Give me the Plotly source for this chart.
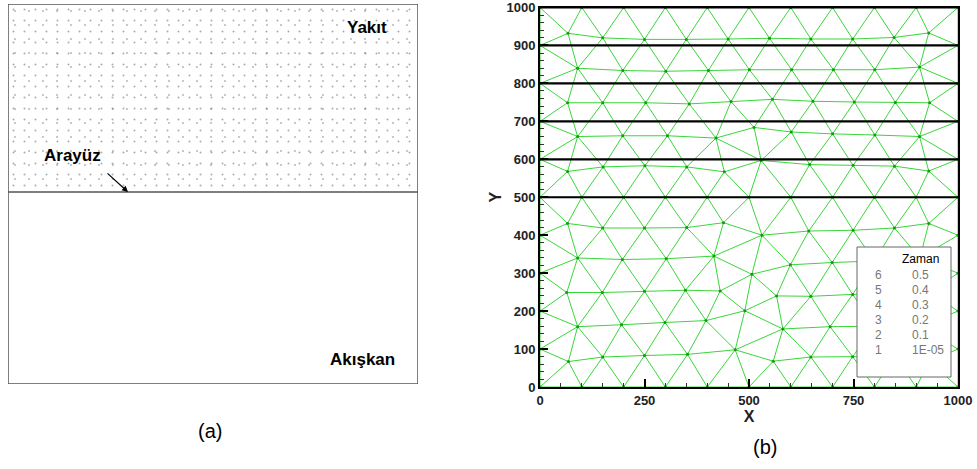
import plotly.graph_objects as go

W, H = 977, 469

# ------------------------------------------------------------------ data
zaman_levels = [6, 5, 4, 3, 2, 1]
zaman_values = ["0.5", "0.4", "0.3", "0.2", "0.1", "1E-05"]
interface_y = [1000, 900, 800, 700, 600, 500]          # interface height per level

x_ticks = [0, 250, 500, 750, 1000]
y_ticks = list(range(0, 1001, 100))

# mesh nodes
edge_x = list(range(0, 1001, 100))        # nodes on bottom/top boundaries
edge_y = list(range(100, 1000, 100))      # nodes on left/right boundaries
row500_x = list(range(100, 1000, 100))    # full node row at y = 500

row930 = [(67, 932), (150, 920), (250, 916), (350, 916), (450, 917), (549, 919),
          (648, 917), (748, 917), (847, 921), (930, 933)]
row840 = [(90, 840), (198, 834), (301, 832), (403, 834), (501, 836), (602, 836),
          (702, 836), (801, 836), (908, 843)]
row750 = [(66, 749), (150, 749), (253, 749), (357, 746), (457, 752), (556, 758),
          (653, 753), (752, 751), (850, 750), (932, 749)]
row660 = [(90, 660), (198, 662), (305, 662), (421, 656), (512, 684), (601, 672),
          (700, 667), (801, 664), (908, 660)]
row580 = [(66, 568), (151, 580), (251, 583), (351, 580), (441, 567), (529, 597),
          (645, 586), (749, 584), (848, 582), (930, 569)]
row430 = [(66, 431), (150, 419), (250, 419), (351, 420), (439, 433), (531, 400),
          (643, 411), (749, 413), (848, 419), (930, 431)]
row340 = [(90, 340), (197, 336), (302, 338), (416, 345), (507, 297), (599, 322),
          (699, 328), (800, 332), (909, 340)]
row250 = [(64, 249), (149, 249), (250, 252), (348, 255), (431, 253), (566, 240),
          (648, 239), (748, 244), (850, 248), (933, 250)]
row160 = [(90, 159), (195, 164), (299, 170), (397, 175), (490, 201), (581, 153),
          (694, 159), (800, 160), (909, 160)]
row80 = [(68, 67), (150, 79), (250, 83), (353, 86), (467, 98), (558, 68),
         (648, 79), (748, 80), (849, 80), (932, 68)]

panel_a_interface = 0.505   # fraction of panel (a) height

# ------------------------------------------------------------------ mesh
nodes = []
nodes += [(x, 0) for x in edge_x] + [(x, 1000) for x in edge_x]
nodes += [(0, y) for y in edge_y] + [(1000, y) for y in edge_y]
nodes += [(x, 500) for x in row500_x]
for r in (row930, row840, row750, row660, row580, row430, row340, row250, row160, row80):
    nodes += r
nodes = list(dict.fromkeys(nodes))


def circum(a, b, c):
    ax, ay = a; bx, by = b; cx, cy = c
    d = 2 * (ax * (by - cy) + bx * (cy - ay) + cx * (ay - by))
    if abs(d) < 1e-12:
        return (0.0, 0.0, float("inf"))
    ux = ((ax * ax + ay * ay) * (by - cy) + (bx * bx + by * by) * (cy - ay) + (cx * cx + cy * cy) * (ay - by)) / d
    uy = ((ax * ax + ay * ay) * (cx - bx) + (bx * bx + by * by) * (ax - cx) + (cx * cx + cy * cy) * (bx - ax)) / d
    return (ux, uy, (ax - ux) ** 2 + (ay - uy) ** 2)


def delaunay(pts):
    P = list(pts) + [(-20000.0, -20000.0), (21000.0, -20000.0), (500.0, 21000.0)]
    n = len(pts)
    tris = {(n, n + 1, n + 2): circum(P[n], P[n + 1], P[n + 2])}
    for i in range(n):
        px_, py_ = P[i]
        bad = [t for t, (ux, uy, r2) in tris.items() if (px_ - ux) ** 2 + (py_ - uy) ** 2 < r2 - 1e-7]
        cnt = {}
        for t in bad:
            for e in ((t[0], t[1]), (t[1], t[2]), (t[2], t[0])):
                k = tuple(sorted(e))
                cnt[k] = cnt.get(k, 0) + 1
        for t in bad:
            del tris[t]
        for (a, b), c in cnt.items():
            if c == 1:
                tris[(a, b, i)] = circum(P[a], P[b], P[i])
    edges = set()
    for t in tris:
        if max(t) >= n:
            continue
        (x1, y1), (x2, y2), (x3, y3) = P[t[0]], P[t[1]], P[t[2]]
        if abs((x2 - x1) * (y3 - y1) - (x3 - x1) * (y2 - y1)) < 1e-6:
            continue
        for e in ((t[0], t[1]), (t[1], t[2]), (t[2], t[0])):
            edges.add(tuple(sorted(e)))
    return edges


mesh_edges = delaunay(nodes)
ex, ey = [], []
for a, b in mesh_edges:
    ex += [nodes[a][0], nodes[b][0], None]
    ey += [nodes[a][1], nodes[b][1], None]

# ------------------------------------------------------------------ figure
FONT = "Liberation Sans, Arial, Helvetica, sans-serif"
fig = go.Figure()

# panel (b) mesh
fig.add_trace(go.Scatter(x=ex, y=ey, mode="lines", line=dict(color="#3ad63a", width=1),
                         hoverinfo="skip", showlegend=False, xaxis="x", yaxis="y"))
fig.add_trace(go.Scatter(x=[p[0] for p in nodes], y=[p[1] for p in nodes], mode="markers",
                         marker=dict(color="#139a13", size=3), hoverinfo="skip",
                         showlegend=False, xaxis="x", yaxis="y"))
# interface positions at each time level
for lv, yv in zip(zaman_levels, interface_y):
    fig.add_trace(go.Scatter(x=[0, 1000], y=[yv, yv], mode="lines",
                             line=dict(color="black", width=2.2), name=str(lv),
                             showlegend=False, xaxis="x", yaxis="y"))

# panel (a): speckled fuel region (two overlaid faint dot patterns)
fuel_x = [0, 1, 1, 0, 0]
fuel_y = [panel_a_interface, panel_a_interface, 1, 1, panel_a_interface]
fig.add_trace(go.Scatter(x=fuel_x, y=fuel_y, mode="lines", line=dict(width=0), fill="toself",
                         fillcolor="white",
                         fillpattern=dict(shape=".", size=11, solidity=0.025,
                                          fgcolor="#555555", bgcolor="white"),
                         hoverinfo="skip", showlegend=False, xaxis="x2", yaxis="y2"))
fig.add_trace(go.Scatter(x=fuel_x, y=fuel_y, mode="lines", line=dict(width=0), fill="toself",
                         fillcolor="rgba(0,0,0,0)",
                         fillpattern=dict(shape=".", size=14, solidity=0.02,
                                          fgcolor="#777777", bgcolor="rgba(0,0,0,0)"),
                         hoverinfo="skip", showlegend=False, xaxis="x2", yaxis="y2"))

shapes = [
    dict(type="rect", xref="x2", yref="y2", x0=0, x1=1, y0=0, y1=1,
         line=dict(color="#555555", width=1.5)),
    dict(type="line", xref="x2", yref="y2", x0=0, x1=1, y0=panel_a_interface, y1=panel_a_interface,
         line=dict(color="#555555", width=1.5)),
    # legend box for panel (b)
    dict(type="rect", xref="paper", yref="paper", x0=857 / W, x1=951 / W,
         y0=1 - 377 / H, y1=1 - 247 / H, fillcolor="white",
         line=dict(color="#666666", width=1), layer="above"),
]


def px(x, y):
    return x / W, 1 - y / H


ann = []


def text(t, x, y, size, bold=False, color="black", xanchor="center"):
    xx, yy = px(x, y)
    ann.append(dict(text=f"<b>{t}</b>" if bold else t, x=xx, y=yy, xref="paper", yref="paper",
                    showarrow=False, xanchor=xanchor, yanchor="middle",
                    font=dict(family=FONT, size=size, color=color)))


text("Yakıt", 367, 28, 17, bold=True)
text("Arayüz", 72, 155, 17, bold=True)
text("Akışkan", 362, 359, 17, bold=True)
text("(a)", 210, 431, 20)
text("(b)", 765, 447, 20)
text("Zaman", 920, 259, 12)
for i, (lv, val) in enumerate(zip(zaman_levels, zaman_values)):
    yy = 275 + i * 15
    text(str(lv), 878, yy, 12, color="#777777")
    text(val, 910, yy, 12, color="#777777", xanchor="left")

ax_, ay_ = px(128, 192)
ann.append(dict(x=ax_, y=ay_, xref="paper", yref="paper", text="", showarrow=True,
                ax=-22, ay=-20, arrowhead=2, arrowsize=1, arrowwidth=1.2, arrowcolor="black"))

tickfont = dict(family=FONT, size=13, color="#222", weight="bold")
fig.update_layout(
    width=W, height=H, margin=dict(l=0, r=0, t=0, b=0),
    paper_bgcolor="white", plot_bgcolor="white",
    shapes=shapes, annotations=ann, showlegend=False,
    xaxis=dict(domain=[540 / W, 958 / W], range=[0, 1000], tickvals=x_ticks, automargin=False,
               showgrid=False, zeroline=False, showline=True, linecolor="black", linewidth=2,
               mirror=True, ticks="inside", ticklen=8, tickwidth=2, tickcolor="black",
               minor=dict(ticks="inside", dtick=50, ticklen=4, tickcolor="#333", tickwidth=1),
               tickfont=tickfont, ticklabeloverflow="allow",
               title=dict(text="<b>X</b>", font=dict(family=FONT, size=16, color="#222"), standoff=0)),
    yaxis=dict(domain=[1 - 387 / H, 1 - 7.5 / H], range=[0, 1000], tickvals=y_ticks, automargin=False,
               showgrid=False, zeroline=False, showline=True, linecolor="black", linewidth=2,
               mirror=True, ticks="inside", ticklen=8, tickwidth=2, tickcolor="black",
               minor=dict(ticks="inside", dtick=20, ticklen=4, tickcolor="#333", tickwidth=1),
               tickfont=tickfont, ticklabeloverflow="allow",
               title=dict(text="<b>Y</b>", font=dict(family=FONT, size=16, color="#222"), standoff=1)),
    xaxis2=dict(domain=[8 / W, 418 / W], range=[0, 1], visible=False, fixedrange=True,
                anchor="y2"),
    yaxis2=dict(domain=[1 - 384 / H, 1 - 4 / H], range=[0, 1], visible=False, fixedrange=True,
                anchor="x2"),
)

fig.write_html("out.html", config={"displayModeBar": False},
               post_script="document.body.style.margin='0px';document.body.style.overflow='hidden';")
